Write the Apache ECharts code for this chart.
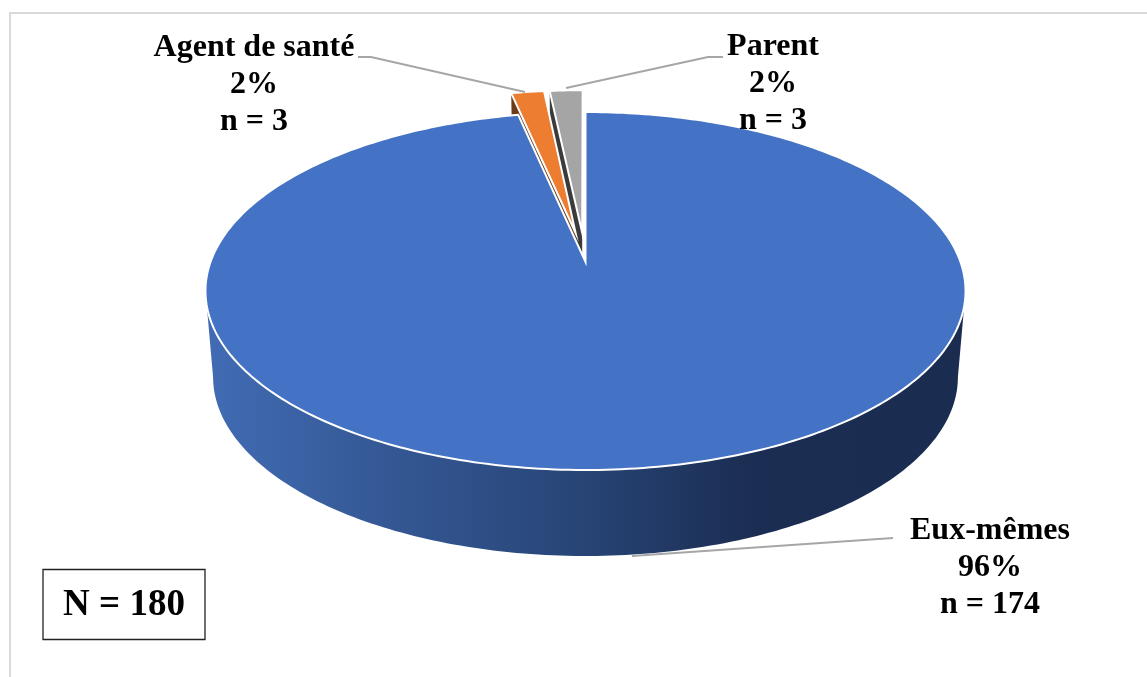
<!DOCTYPE html>
<html>
<head>
<meta charset="utf-8">
<style>html,body{margin:0;padding:0;background:#fff}#chart{width:1147px;height:677px}</style>
<script src="https://cdn.jsdelivr.net/npm/echarts@6/dist/echarts.min.js"></script>
</head>
<body>
<div id="chart"></div>
<script>
// Who reported: respondents per category
const categories = ['Eux-mêmes', 'Agent de santé', 'Parent'];
const counts = [174, 3, 3];
const percentLabels = ['96%', '2%', '2%'];
const totalLabel = 'N = 180';

// Per-slice appearance, same order as categories
const topColors = ['#4472C4', '#ED7D31', '#A5A5A5'];
const wallColors = [null, '#6B3A17', '#3B3B3B'];
const explode = [0, 0.173, 0.173];
const stacking = [30, 20, 10];

// Tilted-disc projection: apex of the pie on screen, radii and perspective strength
const cam = { cx: 585.5, cy: 262, ax: 375, ay: 174.3, t: 0.162, depth: 86, taper: 0.98 };

function project(u, v, lowered) {
  const w = 1 + cam.t * v;
  const k = lowered ? cam.taper : 1;
  return [
    cam.cx + cam.ax * u / w * k,
    cam.cy - cam.ay * v / w + (lowered ? cam.depth : 0)
  ];
}

// Rim point at an angle (radians, clockwise from the far side) with a radial offset
function rim(theta, off, offAngle, lowered) {
  return project(Math.sin(theta) + off * Math.sin(offAngle),
                 Math.cos(theta) + off * Math.cos(offAngle), lowered);
}

function arcPoints(a0, a1, off, offAngle, lowered) {
  const steps = Math.max(4, Math.ceil(Math.abs(a1 - a0) * 60));
  const pts = [];
  for (let i = 0; i <= steps; i++) {
    pts.push(rim(a0 + (a1 - a0) * i / steps, off, offAngle, lowered));
  }
  return pts;
}

const total = counts.reduce((a, b) => a + b, 0);

function renderSlice(params, api) {
  const i = params.dataIndex;
  let before = 0;
  for (let k = 0; k < i; k++) before += counts[k];
  const a0 = before / total * Math.PI * 2;
  const a1 = (before + api.value(0)) / total * Math.PI * 2;
  const off = explode[i];
  const mid = (a0 + a1) / 2;
  const apex = project(off * Math.sin(mid), off * Math.cos(mid), false);
  const apexLow = project(off * Math.sin(mid), off * Math.cos(mid), true);
  const children = [];
  const base = stacking[i];

  if (i === 0) {
    // Front wall of the large slice, between its silhouette points
    const sil = Math.acos(-cam.t);
    const upper = arcPoints(sil, Math.PI * 2 - sil, 0, 0, false);
    const lower = arcPoints(sil, Math.PI * 2 - sil, 0, 0, true);
    children.push({
      type: 'polygon',
      z2: base,
      shape: { points: upper.concat(lower.reverse()) },
      style: {
        fill: new echarts.graphic.LinearGradient(205, 0, 966, 0, [
          { offset: 0, color: '#416CB4' },
          { offset: 0.25, color: '#345793' },
          { offset: 0.5, color: '#274475' },
          { offset: 0.72, color: '#1B2D52' },
          { offset: 1, color: '#1A2C50' }
        ], true)
      }
    });
  } else {
    // Cut face along the leading edge of a pulled-out slice
    const corner = rim(a0, off, mid, false);
    const cornerLow = rim(a0, off, mid, true);
    children.push({
      type: 'polygon',
      z2: base,
      shape: { points: [apex, corner, cornerLow, apexLow] },
      style: { fill: wallColors[i] }
    });
  }

  children.push({
    type: 'polygon',
    z2: base + 1,
    shape: { points: [apex].concat(arcPoints(a0, a1, off, mid, false)) },
    style: { fill: topColors[i], stroke: '#fff', lineWidth: 2, lineJoin: 'miter' }
  });
  return { type: 'group', children };
}

// Callouts: centre x and first-line y of each text block, then its leader line
const callouts = [
  { x: 990, y: 531, leader: [[893, 538], [632, 556]] },
  { x: 254, y: 48, leader: [[358, 57], [371, 57], [525, 92]] },
  { x: 773, y: 47, leader: [[723, 57], [708, 57], [566, 88]] }
];
const serifBold = 'bold 32px "Liberation Serif", "Times New Roman", serif';

const graphicElements = [];
callouts.forEach((c, i) => {
  graphicElements.push({
    type: 'polyline', z: 20, shape: { points: c.leader },
    style: { stroke: '#A6A6A6', lineWidth: 1.8, fill: null }
  });
  [categories[i], percentLabels[i], 'n = ' + counts[i]].forEach((line, j) => {
    graphicElements.push({
      type: 'text', z: 30, x: c.x, y: c.y + j * 37,
      style: { text: line, font: serifBold, fill: '#000', align: 'center', verticalAlign: 'middle' }
    });
  });
});

// Total sample box and the thin sheet edge at the top and left
graphicElements.push(
  { type: 'rect', z: 30, shape: { x: 43, y: 569.5, width: 162, height: 70 },
    style: { fill: '#fff', stroke: '#222', lineWidth: 1.3 } },
  { type: 'text', z: 31, x: 124, y: 605.5,
    style: { text: totalLabel, font: 'bold 37px "Liberation Serif", "Times New Roman", serif',
             fill: '#000', align: 'center', verticalAlign: 'middle' } },
  { type: 'polyline', z: 1, shape: { points: [[10, 677], [10, 13], [1147, 13]] },
    style: { stroke: '#D9D9D9', lineWidth: 2, fill: null } }
);

const chart = echarts.init(document.getElementById('chart'), null, { renderer: 'canvas' });
chart.setOption({
  animation: false,
  backgroundColor: '#fff',
  graphic: { elements: graphicElements },
  series: [{
    type: 'custom',
    coordinateSystem: 'none',
    silent: true,
    renderItem: renderSlice,
    data: counts.map((n, i) => ({ name: categories[i], value: [n] }))
  }]
});
</script>
</body>
</html>
